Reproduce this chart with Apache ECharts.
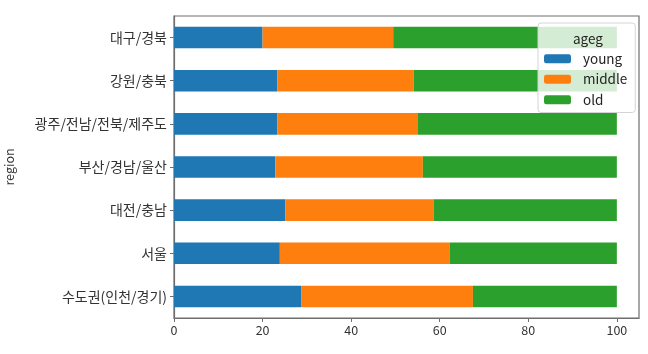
<!DOCTYPE html>
<html>
<head>
<meta charset="utf-8">
<script src="https://cdn.jsdelivr.net/npm/echarts@6/dist/echarts.min.js"></script>
<style>
  html, body { margin: 0; padding: 0; background: #fff; }
  #main { width: 648px; height: 354px; }
</style>
</head>
<body>
<div id="main"></div>
<script>
// bottom -> top, same order as the plot
const regions = ['수도권(인천/경기)', '서울', '대전/충남', '부산/경남/울산', '광주/전남/전북/제주도', '강원/충북', '대구/경북'];
const young = [28.7, 23.9, 25.1, 22.9, 23.3, 23.3, 20.0];
const middle = [38.8, 38.4, 33.5, 33.3, 31.8, 30.8, 29.5];
const old = [32.5, 37.7, 41.4, 43.8, 44.9, 45.9, 50.5];
const xTicks = [0, 20, 40, 60, 80, 100];

const font = "'Noto Sans CJK KR', 'Noto Sans', sans-serif";
const myChart = echarts.init(document.getElementById('main'));

const mkSeries = (name, data, color) => ({
  name,
  type: 'bar',
  stack: 'all',
  data,
  barWidth: '50%',
  itemStyle: { color },
  emphasis: { disabled: true }
});

myChart.setOption({
  animation: false,
  textStyle: { fontFamily: font },
  grid: {
    left: 174, right: 9, top: 16, bottom: 36,
    outerBoundsMode: 'none',
    show: true, borderColor: '#6e6e6e', borderWidth: 1.2
  },
  title: {
    text: 'ageg',
    left: 568, top: 27,
    textStyle: { fontSize: 13.5, fontWeight: 'normal', color: '#222', fontFamily: font }
  },
  legend: {
    orient: 'vertical',
    left: 538, top: 23,
    padding: [29, 8, 6, 6],
    itemGap: 7,
    itemWidth: 27, itemHeight: 9,
    backgroundColor: 'rgba(255,255,255,0.8)',
    borderColor: '#d4d4d4', borderWidth: 1, borderRadius: 3,
    textStyle: { fontSize: 13.5, color: '#222', fontFamily: font, padding: [0, 0, 0, 7] },
    data: ['young', 'middle', 'old']
  },
  xAxis: {
    type: 'value',
    min: 0, max: 105, interval: 20,
    splitLine: { show: false },
    axisLine: { show: true, lineStyle: { color: '#6e6e6e', width: 1.2 } },
    axisTick: { show: true, length: 4, lineStyle: { color: '#6e6e6e' },
      customValues: xTicks },
    axisLabel: { color: '#333', fontSize: 12.5, margin: 6, customValues: xTicks }
  },
  yAxis: {
    type: 'category',
    data: regions,
    name: 'region',
    nameLocation: 'middle',
    nameGap: 158,
    nameTextStyle: { fontSize: 12.5, color: '#333' },
    axisLine: { show: true, lineStyle: { color: '#6e6e6e', width: 1.2 } },
    axisTick: { show: true, alignWithLabel: true, length: 4, lineStyle: { color: '#6e6e6e' } },
    axisLabel: { color: '#333', fontSize: 14, margin: 7 }
  },
  series: [
    mkSeries('young', young, '#1f77b4'),
    mkSeries('middle', middle, '#ff7f0e'),
    mkSeries('old', old, '#2ca02c')
  ]
});
</script>
</body>
</html>
